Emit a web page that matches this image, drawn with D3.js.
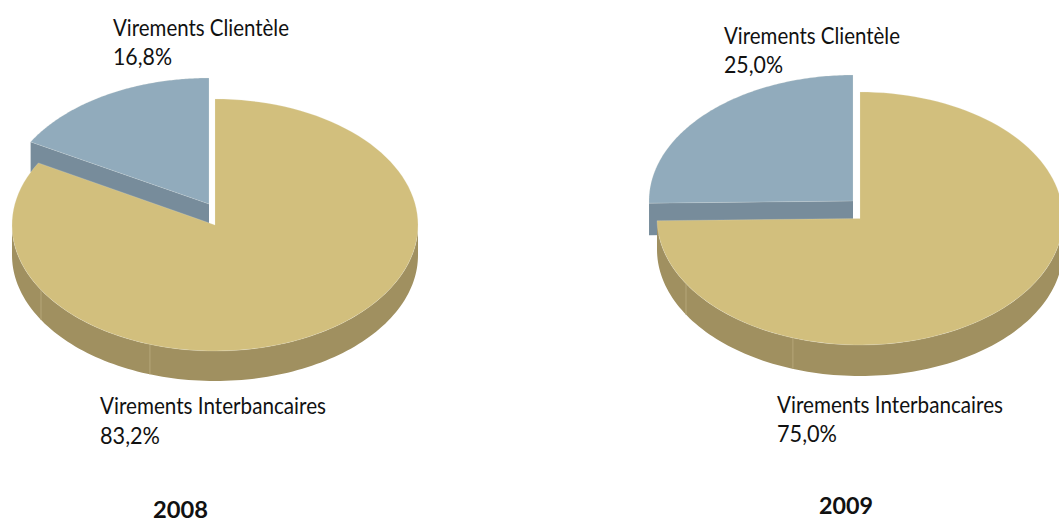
<!DOCTYPE html>
<html><head><meta charset="utf-8">
<script src="https://cdnjs.cloudflare.com/ajax/libs/d3/7.8.5/d3.min.js"></script>
<style>html,body{margin:0;padding:0;background:#fff;overflow:hidden}svg{display:block}
text{font-family:Lato,"Open Sans",sans-serif;fill:#111}</style></head><body>
<svg id="c" width="1059" height="523"></svg>
<script>
const years = ["2008","2009"];
const categories = ["Virements Interbancaires","Virements Clientèle"];
const interbancaires = [83.2,75.0];
const clientele = [16.8,25.0];
const interLabels = ["83,2%","75,0%"];
const clientLabels = ["16,8%","25,0%"];
const colors = {gold:"#d2bf7d",goldSide:"#a09060",blue:"#91abbc",blueSide:"#778c9b",seam:"#b5a679",rim:"#f2f0e6"};
const layout = [
 {gold:[215,225],blue:[209,204],rx:203,ry:126,brx:205,bry:126,depth:30,bdepth:30,tilt:0,seams:[198.7,239],
  year:[153,517.5,55],client:[113,36,176,113,65,59],inter:[100,414,226,100,444,60]},
 {gold:[860,218.5],blue:[853,201],rx:203,ry:126.5,brx:204,bry:126,depth:31,bdepth:32,tilt:-1,seams:[199.3,239],
  year:[819,514,54],client:[724,44,176,724,73,59],inter:[777,413,226,777,442,60]}
];
const svg = d3.select("#c");
const deg = d=>d*Math.PI/180;
function label(t,x,y,w,bold){
  svg.append("text").attr("x",x).attr("y",y).attr("font-size",bold?23.5:23)
   .attr("font-weight",bold?700:400).attr("textLength",w).attr("lengthAdjust","spacingAndGlyphs").text(t);
}
years.forEach((yr,i)=>{
  const L = layout[i];
  const pie = d3.pie().sort(null).value(d=>d)([interbancaires[i],clientele[i]]);
  const goldEnd = pie[0].endAngle+deg(L.tilt), blueStart = pie[1].startAngle+deg(L.tilt), blueEnd = pie[1].endAngle;
  const scales = (c,rx,ry)=>({c,
    x:d3.scaleLinear().domain([-1,1]).range([c[0]-rx,c[0]+rx]),
    y:d3.scaleLinear().domain([-1,1]).range([c[1]-ry,c[1]+ry])});
  const G = scales(L.gold,L.rx,L.ry), B = scales(L.blue,L.brx,L.bry);
  const pt = (S,a,dz=0)=>[S.x(Math.sin(a)),S.y(-Math.cos(a))+dz];
  const line = d3.line();
  const sample = (a0,a1)=>d3.range(0,121).map(k=>a0+(a1-a0)*k/120);
  const sector = (S,a0,a1)=>line([S.c,...sample(a0,a1).map(a=>pt(S,a))])+"Z";
  const rim = sel=>sel.attr("stroke",colors.rim).attr("stroke-width",0.5).attr("stroke-opacity",0.4);

  // blue slice: cut face, then top
  const bEdge = pt(B,blueStart), bc = L.blue;
  svg.append("path").attr("fill",colors.blueSide)
    .attr("d",line([bc,bEdge,[bEdge[0],bEdge[1]+L.bdepth],[bc[0],bc[1]+L.bdepth]])+"Z");
  rim(svg.append("path").attr("fill",colors.blue).attr("d",sector(B,blueStart,blueEnd)));

  // gold outer wall
  const wall = sample(deg(90),deg(270));
  svg.append("path").attr("fill",colors.goldSide)
    .attr("d",line([...wall.map(a=>pt(G,a)),...wall.slice().reverse().map(a=>pt(G,a,L.depth))])+"Z");
  L.seams.forEach(s=>{
    const p=pt(G,deg(s));
    svg.append("path").attr("stroke",colors.seam).attr("stroke-width",1).attr("fill","none")
      .attr("d",line([p,[p[0],p[1]+L.depth]]));
  });
  rim(svg.append("path").attr("fill",colors.gold).attr("d",sector(G,pie[0].startAngle,goldEnd)));

  label(categories[1],L.client[0],L.client[1],L.client[2]);
  label(clientLabels[i],L.client[3],L.client[4],L.client[5]);
  label(categories[0],L.inter[0],L.inter[1],L.inter[2]);
  label(interLabels[i],L.inter[3],L.inter[4],L.inter[5]);
  label(yr,L.year[0],L.year[1],L.year[2],true);
});
</script></body></html>
